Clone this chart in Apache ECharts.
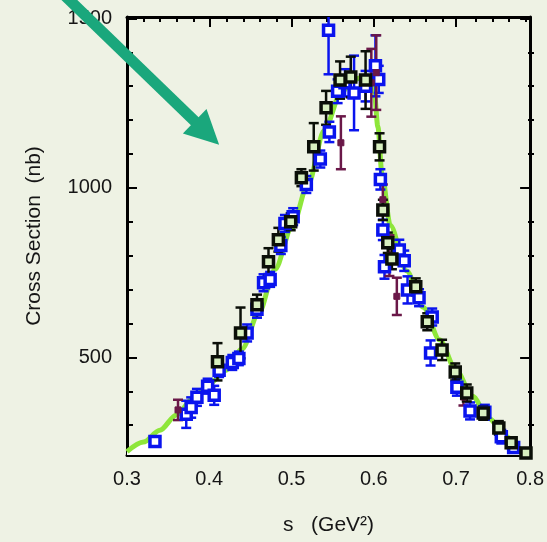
<!DOCTYPE html>
<html>
<head>
<meta charset="utf-8">
<script src="https://cdn.jsdelivr.net/npm/echarts@6/dist/echarts.min.js"></script>
<style>
html,body{margin:0;padding:0;background:#eef2e4;}
#c{width:547px;height:542px;}
</style>
</head>
<body>
<div id="c"></div>
<script>
// ---- data ----
const xTicksMajor = [0.3, 0.4, 0.5, 0.6, 0.7, 0.79];
const xTicksMinor = [0.32,0.34,0.36,0.38,0.42,0.44,0.46,0.48,0.52,0.54,0.56,0.58,0.62,0.64,0.66,0.68,0.72,0.74,0.76,0.78];
const yTicksMajor = [500, 1000, 1500];
const yTicksMinor = [300,400,600,700,800,900,1100,1200,1300,1400];

const fitS = [0.30,0.32,0.34,0.36,0.38,0.40,0.42,0.44,0.46,0.48,0.50,0.52,0.54,0.56,0.575,0.59,0.60,0.605,0.61,0.62,0.64,0.66,0.68,0.70,0.72,0.74,0.76,0.78,0.79];
const fitY = [222,250,285,330,378,422,462,525,630,760,880,1010,1170,1280,1318,1330,1300,1180,1040,890,755,648,552,462,385,320,268,228,212];

const blueS = [0.334,0.372,0.378,0.385,0.398,0.406,0.412,0.428,0.436,0.446,0.458,0.466,0.474,0.487,0.492,0.502,0.518,0.535,0.546,0.545,0.556,0.565,0.576,0.590,0.602,0.606,0.608,0.611,0.613,0.631,0.637,0.641,0.655,0.671,0.669,0.701,0.717,0.735,0.755,0.770];
const blueY = [252,332,352,382,415,388,462,485,497,572,642,720,730,830,895,915,1010,1085,1165,1465,1285,1310,1280,1300,1360,1320,1025,876,767,817,785,699,676,619,513,412,342,338,266,234];
const blueE = [12,40,30,25,22,28,20,22,20,25,25,25,22,25,25,25,25,25,30,130,35,40,110,45,90,40,30,30,35,30,30,40,25,25,37,25,25,22,20,15];

const blackS = [0.410,0.438,0.458,0.472,0.484,0.499,0.512,0.527,0.542,0.559,0.572,0.590,0.607,0.611,0.617,0.622,0.651,0.665,0.683,0.699,0.713,0.733,0.752,0.767,0.785];
const blackY = [487,572,655,782,847,900,1030,1121,1236,1318,1327,1318,1121,935,838,790,708,605,522,457,395,336,292,248,218];
const blackE = [55,75,30,40,35,25,25,70,50,55,60,85,40,30,30,30,25,25,30,25,25,20,20,15,12];

const purpS = [0.362,0.560,0.597,0.603,0.611,0.619,0.628,0.709];
const purpY = [345,1133,1310,1340,965,800,680,383];
const purpE = [30,78,100,110,45,60,55,25];

const arrowFrom = [0.207, 1608];
const arrowTo = [0.412, 1127];

// ---- build ----
function zip3(a,b,c){ return a.map((v,i)=>[v,b[i],c[i]]); }
function zip2(a,b){ return a.map((v,i)=>[v,b[i]]); }

function errRender(color, lw, hw){
  return function(params, api){
    const x = api.value(0), y = api.value(1), e = api.value(2);
    const hi = api.coord([x, y + e]);
    const lo = api.coord([x, y - e]);
    const st = {stroke: color, lineWidth: lw};
    return {type:'group', children:[
      {type:'line', shape:{x1:hi[0], y1:hi[1], x2:lo[0], y2:lo[1]}, style:st},
      {type:'line', shape:{x1:hi[0]-hw, y1:hi[1], x2:hi[0]+hw, y2:hi[1]}, style:st},
      {type:'line', shape:{x1:lo[0]-hw, y1:lo[1], x2:lo[0]+hw, y2:lo[1]}, style:st}
    ]};
  };
}

const FONT = "'Liberation Sans', Arial, Helvetica, sans-serif";
const TXT = '#161616';
const grid = {left:127, right:13, top:17, bottom:87};
const XR = {min:0.3, max:0.79};
const YR = {min:212, max:1504};

function xAx(gridIndex, pos, ticks, len, labels){
  return {
    type:'value', gridIndex, position:pos, min:XR.min, max:XR.max,
    splitLine:{show:false},
    axisLine:{show:gridIndex===0, lineStyle:{color:'#000', width:3}},
    axisTick:{show:true, inside:true, length:len, customValues:ticks, lineStyle:{color:'#000', width:2}},
    axisLabel: labels ? {show:true, customValues:xTicksMajor, fontSize:20, fontFamily:FONT, color:TXT, margin:14,
      formatter: v => Number(v).toFixed(1)} : {show:false}
  };
}
function yAx(gridIndex, pos, ticks, len, labels){
  return {
    type:'value', gridIndex, position:pos, min:YR.min, max:YR.max,
    splitLine:{show:false},
    axisLine:{show:gridIndex===0, lineStyle:{color:'#000', width:3}},
    axisTick:{show:true, inside:true, length:len, customValues:ticks, lineStyle:{color:'#000', width:2}},
    axisLabel: labels ? {show:true, customValues:yTicksMajor, fontSize:20, fontFamily:FONT, color:TXT, margin:15,
      formatter: v => String(Math.round(v))} : {show:false}
  };
}

const xAxes = [
  xAx(0,'bottom',xTicksMajor.slice(0,5),10,true),
  xAx(0,'top',xTicksMajor.slice(0,5),10,false),
  xAx(1,'bottom',xTicksMinor,5,false),
  xAx(1,'top',xTicksMinor,5,false)
];
Object.assign(xAxes[0], {name:'s   (GeV²)', nameLocation:'middle', nameGap:60,
  nameTextStyle:{fontSize:21, fontFamily:FONT, color:TXT}});
const yAxes = [
  yAx(0,'left',yTicksMajor,10,true),
  yAx(0,'right',yTicksMajor,10,false),
  yAx(1,'left',yTicksMinor,6,false),
  yAx(1,'right',yTicksMinor,6,false)
];
Object.assign(yAxes[0], {name:'Cross Section  (nb)', nameLocation:'middle', nameGap:82,
  nameTextStyle:{fontSize:21, fontFamily:FONT, color:TXT}});

const BLUE = '#0a14ee', BLACK = '#0b0f08', PURP = '#6a1848', GREEN = '#8ee63a';

const chart = echarts.init(document.getElementById('c'), null, {renderer:'canvas'});
chart.setOption({
  backgroundColor:'#eef2e4',
  animation:false,
  grid:[Object.assign({}, grid), Object.assign({}, grid)],
  xAxis: xAxes,
  yAxis: yAxes,
  series:[
    {type:'line', data: zip2(fitS, fitY), smooth:0.3, smoothMonotone:'x', symbol:'none',
      lineStyle:{color:GREEN, width:5}, areaStyle:{color:'#ffffff', opacity:1, origin:'start'}, z:1},
    {type:'custom', data: zip3(blueS, blueY, blueE), encode:{x:0, y:1}, clip:true,
      renderItem: errRender(BLUE, 2.5, 5), z:2},
    {type:'custom', data: zip3(purpS, purpY, purpE), encode:{x:0, y:1}, clip:true,
      renderItem: errRender(PURP, 2.5, 5), z:3},
    {type:'custom', data: zip3(blackS, blackY, blackE), encode:{x:0, y:1}, clip:true,
      renderItem: errRender(BLACK, 2.5, 5), z:4},
    {type:'scatter', data: zip2(blueS, blueY), symbol:'rect', symbolSize:10,
      itemStyle:{color:'#ffffff', borderColor:BLUE, borderWidth:3.5, opacity:1}, z:5},
    {type:'scatter', data: zip2(purpS, purpY), symbol:'rect', symbolSize:6,
      itemStyle:{color:PURP, borderColor:PURP, borderWidth:1, opacity:1}, z:6},
    {type:'scatter', data: zip2(blackS, blackY), symbol:'rect', symbolSize:10,
      itemStyle:{color:'#d8f0c0', borderColor:BLACK, borderWidth:3.5, opacity:1}, z:7}
  ]
});

// arrow annotation positioned from data coordinates
const p0 = chart.convertToPixel({xAxisIndex:0, yAxisIndex:0}, arrowFrom);
const p1 = chart.convertToPixel({xAxisIndex:0, yAxisIndex:0}, arrowTo);
const dx = p1[0]-p0[0], dy = p1[1]-p0[1], L = Math.hypot(dx, dy);
const ux = dx/L, uy = dy/L, nx = -uy, ny = ux;
const headLen = 34, headHalf = 17;
const bx = p1[0]-ux*headLen, by = p1[1]-uy*headLen;
const AC = '#1aa77c';
chart.setOption({
  graphic:[
    {type:'line', z:100, shape:{x1:p0[0], y1:p0[1], x2:bx+ux*3, y2:by+uy*3}, style:{stroke:AC, lineWidth:11}},
    {type:'polygon', z:100, shape:{points:[[p1[0],p1[1]],[bx+nx*headHalf, by+ny*headHalf],[bx-nx*headHalf, by-ny*headHalf]]},
      style:{fill:AC}}
  ]
});
</script>
</body>
</html>
